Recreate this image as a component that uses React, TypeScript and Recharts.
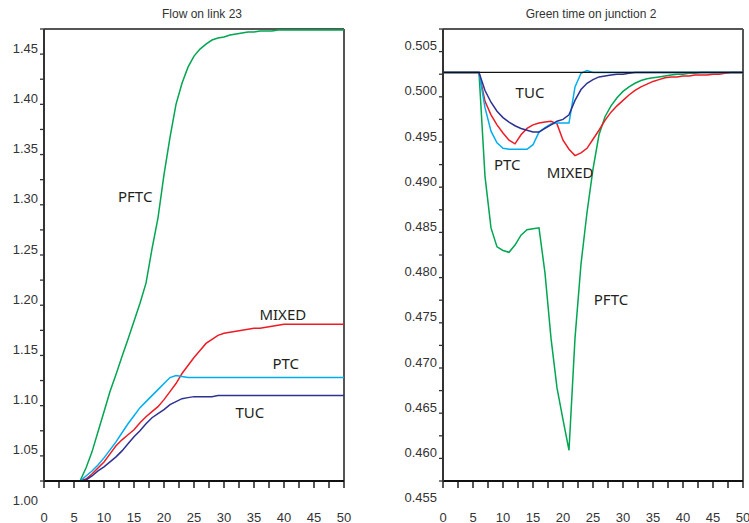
import React from "react";
import { LineChart, Line, XAxis, YAxis, ReferenceLine, ReferenceDot } from "recharts";

// time steps
const steps = [
  0, 1, 2, 3, 4, 5, 6, 7, 8, 9, 10, 11, 12, 13, 14, 15, 16, 17, 18, 19, 20, 21, 22, 23, 24, 25,
  26, 27, 28, 29, 30, 31, 32, 33, 34, 35, 36, 37, 38, 39, 40, 41, 42, 43, 44, 45, 46, 47, 48, 49, 50,
];

// Flow on link 23
const flowPFTC = [
  1.025, 1.025, 1.025, 1.025, 1.025, 1.025, 1.025, 1.038, 1.054, 1.074, 1.094, 1.114, 1.131, 1.149,
  1.166, 1.184, 1.202, 1.222, 1.256, 1.287, 1.330, 1.367, 1.400, 1.421, 1.437, 1.448, 1.455, 1.460,
  1.464, 1.466, 1.467, 1.469, 1.470, 1.471, 1.472, 1.472, 1.473, 1.473, 1.473, 1.474, 1.474, 1.474,
  1.474, 1.474, 1.474, 1.474, 1.474, 1.474, 1.474, 1.474, 1.474,
];
const flowMIXED = [
  1.025, 1.025, 1.025, 1.025, 1.025, 1.025, 1.025, 1.027, 1.032, 1.038, 1.044, 1.052, 1.060, 1.066,
  1.071, 1.076, 1.083, 1.089, 1.094, 1.099, 1.106, 1.114, 1.122, 1.132, 1.140, 1.148, 1.155, 1.162,
  1.166, 1.170, 1.172, 1.173, 1.174, 1.175, 1.176, 1.177, 1.177, 1.178, 1.179, 1.180, 1.181, 1.181,
  1.181, 1.181, 1.181, 1.181, 1.181, 1.181, 1.181, 1.181, 1.181,
];
const flowPTC = [
  1.025, 1.025, 1.025, 1.025, 1.025, 1.025, 1.025, 1.030, 1.035, 1.041, 1.048, 1.056, 1.064, 1.073,
  1.082, 1.090, 1.098, 1.104, 1.110, 1.116, 1.122, 1.128, 1.130, 1.129, 1.128, 1.128, 1.128, 1.128,
  1.128, 1.128, 1.128, 1.128, 1.128, 1.128, 1.128, 1.128, 1.128, 1.128, 1.128, 1.128, 1.128, 1.128,
  1.128, 1.128, 1.128, 1.128, 1.128, 1.128, 1.128, 1.128, 1.128,
];
const flowTUC = [
  1.025, 1.025, 1.025, 1.025, 1.025, 1.025, 1.025, 1.026, 1.030, 1.035, 1.039, 1.044, 1.049, 1.055,
  1.062, 1.069, 1.075, 1.082, 1.088, 1.092, 1.096, 1.101, 1.104, 1.107, 1.108, 1.109, 1.109, 1.109,
  1.109, 1.110, 1.110, 1.110, 1.110, 1.110, 1.110, 1.110, 1.110, 1.110, 1.110, 1.110, 1.110, 1.110,
  1.110, 1.110, 1.110, 1.110, 1.110, 1.110, 1.110, 1.110, 1.110,
];

// Green time on junction 2
const greenPFTC = [
  0.5027, 0.5027, 0.5027, 0.5027, 0.5027, 0.5027, 0.5027, 0.4912, 0.4855, 0.4834, 0.4830, 0.4828,
  0.4836, 0.4847, 0.4853, 0.4854, 0.4855, 0.4805, 0.4733, 0.4678, 0.4643, 0.4609, 0.4733, 0.4815,
  0.4872, 0.4920, 0.4958, 0.4978, 0.4990, 0.4999, 0.5006, 0.5011, 0.5015, 0.5018, 0.5020, 0.5021,
  0.5022, 0.5023, 0.5024, 0.5025, 0.5025, 0.5026, 0.5026, 0.5027, 0.5027, 0.5027, 0.5027, 0.5027,
  0.5027, 0.5027, 0.5027,
];
const greenMIXED = [
  0.5027, 0.5027, 0.5027, 0.5027, 0.5027, 0.5027, 0.5027, 0.4995, 0.4980, 0.4969, 0.4960, 0.4952,
  0.4948, 0.4958, 0.4965, 0.4969, 0.4971, 0.4972, 0.4973, 0.4970, 0.4952, 0.4942, 0.4935, 0.4938,
  0.4943, 0.4953, 0.4963, 0.4974, 0.4983, 0.4990, 0.4996, 0.5002, 0.5007, 0.5011, 0.5014, 0.5017,
  0.5019, 0.5021, 0.5022, 0.5022, 0.5023, 0.5023, 0.5024, 0.5024, 0.5024, 0.5025, 0.5025, 0.5026,
  0.5027, 0.5027, 0.5027,
];
const greenPTC = [
  0.5027, 0.5027, 0.5027, 0.5027, 0.5027, 0.5027, 0.5027, 0.4988, 0.4962, 0.4949, 0.4943, 0.4942,
  0.4942, 0.4942, 0.4942, 0.4947, 0.4961, 0.4966, 0.4970, 0.4971, 0.4971, 0.4971, 0.5011, 0.5026,
  0.5029, 0.5027, 0.5027, 0.5027, 0.5027, 0.5027, 0.5027, 0.5027, 0.5027, 0.5027, 0.5027, 0.5027,
  0.5027, 0.5027, 0.5027, 0.5027, 0.5027, 0.5027, 0.5027, 0.5027, 0.5027, 0.5027, 0.5027, 0.5027,
  0.5027, 0.5027, 0.5027,
];
const greenTUC = [
  0.5027, 0.5027, 0.5027, 0.5027, 0.5027, 0.5027, 0.5027, 0.5007, 0.4994, 0.4984, 0.4977, 0.4972,
  0.4968, 0.4965, 0.4963, 0.4961, 0.4961, 0.4965, 0.4969, 0.4973, 0.4975, 0.4980, 0.4996, 0.5008,
  0.5015, 0.5019, 0.5022, 0.5023, 0.5024, 0.5025, 0.5025, 0.5026, 0.5027, 0.5027, 0.5027, 0.5027,
  0.5027, 0.5027, 0.5027, 0.5027, 0.5027, 0.5027, 0.5027, 0.5027, 0.5027, 0.5027, 0.5027, 0.5027,
  0.5027, 0.5027, 0.5027,
];
const greenBase = 0.5027;

const xTicks = [
  0, 2.5, 5, 7.5, 10, 12.5, 15, 17.5, 20, 22.5, 25, 27.5, 30, 32.5, 35, 37.5, 40, 42.5, 45, 47.5, 50,
];
const flowTicks = [
  1.0, 1.025, 1.05, 1.075, 1.1, 1.125, 1.15, 1.175, 1.2, 1.225, 1.25, 1.275, 1.3, 1.325, 1.35, 1.375,
  1.4, 1.425, 1.45, 1.475,
];
const greenTicks = [
  0.455, 0.4575, 0.46, 0.4625, 0.465, 0.4675, 0.47, 0.4725, 0.475, 0.4775, 0.48, 0.4825, 0.485,
  0.4875, 0.49, 0.4925, 0.495, 0.4975, 0.5, 0.5025, 0.505, 0.5075,
];
const flowDomain = [1.025, 1.475];
const greenDomain = [0.4575, 0.5075];

// curve labels: text, step, value
const flowNotes = [
  { text: "PFTC", t: 15.2, v: 1.309 },
  { text: "MIXED", t: 39.8, v: 1.191 },
  { text: "PTC", t: 40.3, v: 1.142 },
  { text: "TUC", t: 34.3, v: 1.094 },
];
const greenNotes = [
  { text: "TUC", t: 14.5, v: 0.5005 },
  { text: "PTC", t: 10.7, v: 0.4926 },
  { text: "MIXED", t: 21.2, v: 0.4917 },
  { text: "PFTC", t: 28, v: 0.4776 },
];

const flowData = steps.map((t, i) => ({
  t,
  pftc: flowPFTC[i],
  mixed: flowMIXED[i],
  ptc: flowPTC[i],
  tuc: flowTUC[i],
}));
const greenData = steps.map((t, i) => ({
  t,
  pftc: greenPFTC[i],
  mixed: greenMIXED[i],
  ptc: greenPTC[i],
  tuc: greenTUC[i],
}));

const COLORS = { pftc: "#00a651", mixed: "#ed1c24", ptc: "#00aeef", tuc: "#2e3192" };
const AXIS = "#333";

const makeYTick = (digits: number, unit: number, domain: number[]) => (props: any) => {
  const { x, y, payload } = props;
  const v = payload.value;
  const inside = v >= domain[0] - 1e-9 && v <= domain[1] + 1e-9;
  const major = Math.round(v * unit) % 50 === 0;
  return (
    <g>
      {inside && <line x1={x + 2} x2={x + 6} y1={y} y2={y} stroke={AXIS} strokeWidth={1.3} />}
      {major && (
        <text x={x} y={y - 6} textAnchor="end" dominantBaseline="central" fontSize={13} fill="#333">
          {v.toFixed(digits)}
        </text>
      )}
    </g>
  );
};

const XTick = (props: any) => {
  const { x, y, payload } = props;
  if (payload.value % 5 !== 0) return <g />;
  return (
    <text x={x} y={y + 29} textAnchor="middle" dominantBaseline="central" fontSize={13} fill="#333">
      {payload.value}
    </text>
  );
};

const noteShape = (text: string) => (p: any) => (
  <text
    x={p.cx}
    y={p.cy}
    textAnchor="middle"
    dominantBaseline="central"
    fontSize={15}
    fontFamily="'Noto Sans', sans-serif"
    fill="#231f20"
  >
    {text}
  </text>
);

const Panel = ({ data, domain, ticks, yWidth, width, right, digits, unit, notes, base }: any) => (
  <LineChart
    width={width}
    height={523}
    data={data}
    margin={{ top: 29, right, bottom: 0, left: 0 }}
  >
    <XAxis
      dataKey="t"
      type="number"
      domain={[0, 50]}
      ticks={xTicks}
      interval={0}
      height={42}
      tickSize={7}
      tickMargin={0}
      tickLine={{ stroke: "#111", strokeWidth: 1.4 }}
      axisLine={{ stroke: "#111", strokeWidth: 2 }}
      tick={XTick}
    />
    <YAxis
      type="number"
      domain={domain}
      allowDataOverflow
      ticks={ticks}
      interval={0}
      width={yWidth}
      tickSize={4}
      tickMargin={2}
      tickLine={false}
      axisLine={{ stroke: AXIS, strokeWidth: 2 }}
      tick={makeYTick(digits, unit, domain)}
    />
    <ReferenceLine y={domain[1]} stroke="#555" strokeWidth={2} />
    <ReferenceLine x={50} stroke="#555" strokeWidth={2} />
    <Line type="linear" dataKey="pftc" stroke={COLORS.pftc} strokeWidth={1.5} dot={false} isAnimationActive={false} />
    <Line type="linear" dataKey="mixed" stroke={COLORS.mixed} strokeWidth={1.5} dot={false} isAnimationActive={false} />
    <Line type="linear" dataKey="ptc" stroke={COLORS.ptc} strokeWidth={1.5} dot={false} isAnimationActive={false} />
    <Line type="linear" dataKey="tuc" stroke={COLORS.tuc} strokeWidth={1.5} dot={false} isAnimationActive={false} />
    {base !== undefined && <ReferenceLine y={base} stroke="#111" strokeWidth={1.2} />}
    {notes.map((n: any) => (
      <ReferenceDot key={n.text} x={n.t} y={n.v} r={0} shape={noteShape(n.text)} />
    ))}
  </LineChart>
);

export default function App() {
  const title: React.CSSProperties = {
    position: "absolute",
    top: 7,
    fontSize: 12,
    color: "#333",
    textAlign: "center",
    whiteSpace: "nowrap",
  };
  return (
    <div
      style={{
        position: "absolute",
        left: 0,
        top: 0,
        width: 749,
        height: 523,
        background: "#fff",
        fontFamily: "'Liberation Sans', Arial, sans-serif",
      }}
    >
      <div style={{ ...title, left: 102, width: 200 }}>Flow on link 23</div>
      <div style={{ ...title, left: 491, width: 200 }}>Green time on junction 2</div>
      <div style={{ position: "absolute", left: 0, top: 0 }}>
        <Panel
          data={flowData}
          domain={flowDomain}
          ticks={flowTicks}
          yWidth={44}
          width={370}
          right={26}
          digits={2}
          unit={1000}
          notes={flowNotes}
        />
      </div>
      <div style={{ position: "absolute", left: 380, top: 0 }}>
        <Panel
          data={greenData}
          domain={greenDomain}
          ticks={greenTicks}
          yWidth={63}
          width={369}
          right={6}
          digits={3}
          unit={10000}
          notes={greenNotes}
          base={greenBase}
        />
      </div>
    </div>
  );
}
